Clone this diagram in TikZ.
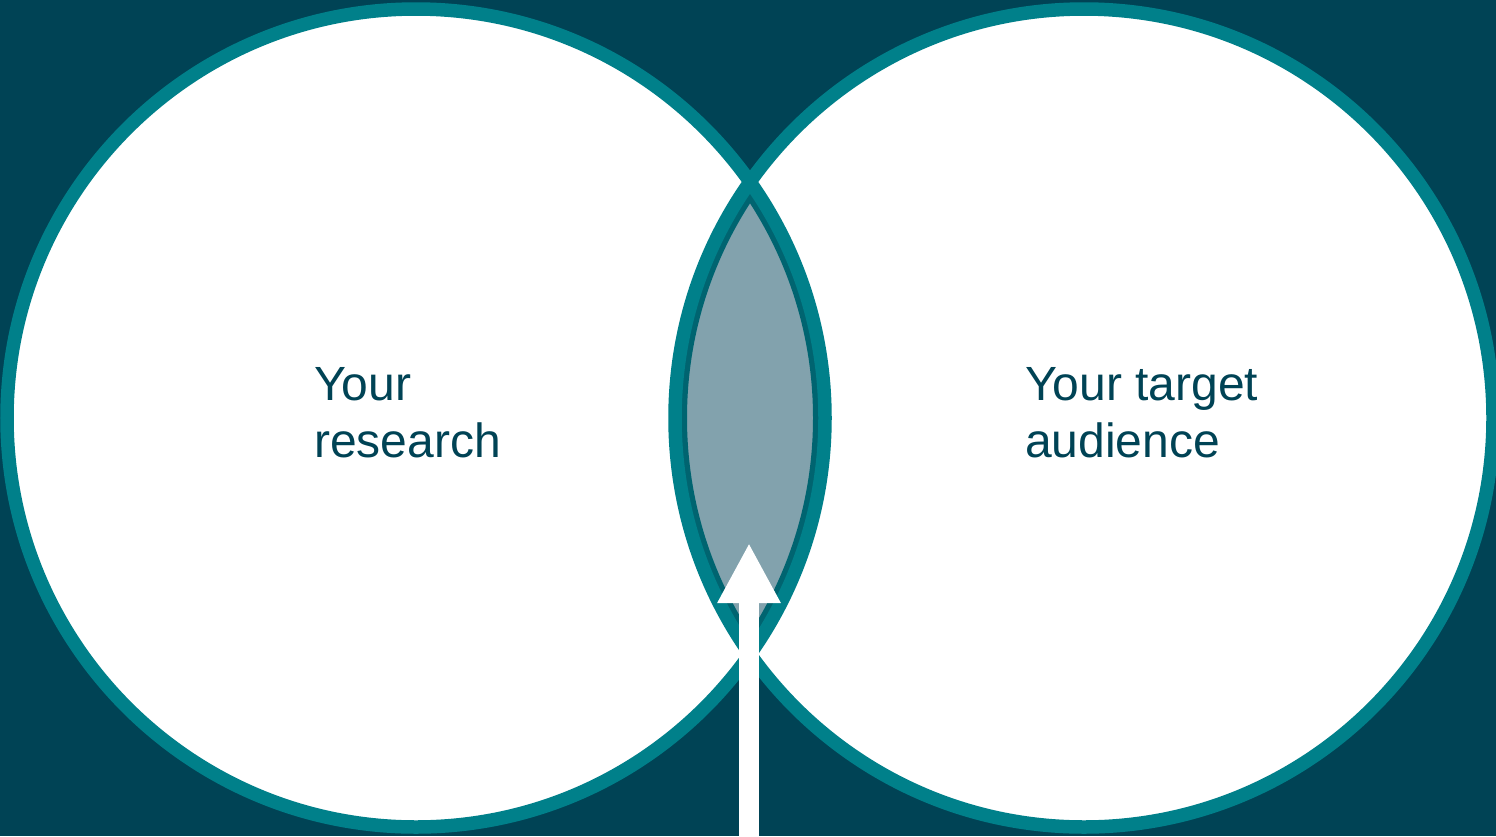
\documentclass[tikz,border=0pt]{standalone}
\usepackage{fontspec}
\setmainfont{Liberation Sans}
\usepackage{tikz}
\usetikzlibrary{arrows.meta,positioning}
\definecolor{bgdark}{HTML}{004355}
\definecolor{rimteal}{HTML}{00808A}
\definecolor{lensgray}{HTML}{82A2AD}
\definecolor{lensrim}{HTML}{006470}

\begin{document}
\begin{tikzpicture}[x=1pt,y=-1pt,
    venncircle/.style={circle,draw=rimteal,line width=13.5pt,minimum size=818pt,inner sep=0pt},
    venntext/.style={anchor=base west,align=left,text=bgdark,inner sep=0pt,
      font=\fontsize{48}{57}\selectfont}]
    % background
    \fill[bgdark] (0,0) rectangle (1496,836);
    \useasboundingbox (0,0) rectangle (1496,836);
    % circles
    \fill[white] (416,418) circle[radius=409];
    \fill[white] (1084,418) circle[radius=409];
    % lens
    \begin{scope}
      \clip (416,418) circle[radius=409];
      \clip (1084,418) circle[radius=409];
      \fill[lensgray] (416,418) circle[radius=409];
      \draw[lensrim,line width=24pt] (1084,418) circle[radius=409];
      \draw[lensrim,line width=24pt] (416,418) circle[radius=409];
    \end{scope}
    \node[venncircle] (research) at (416,418) {};
    \node[venncircle] (audience) at (1084,418) {};
    % arrow
    \coordinate (arrowfoot) at (749,840);
    \coordinate (arrowtip) at (749,543);
    \draw[white,line width=19.5pt,-{Triangle[width=59pt,length=60pt]}] (arrowfoot) -- (arrowtip);
    % labels
    \node[venntext] (researchlabel) at (314,457) {Your\\research};
    \node[venntext] (audiencelabel) at (1025,457) {Your target\\audience};
\end{tikzpicture}
\end{document}
